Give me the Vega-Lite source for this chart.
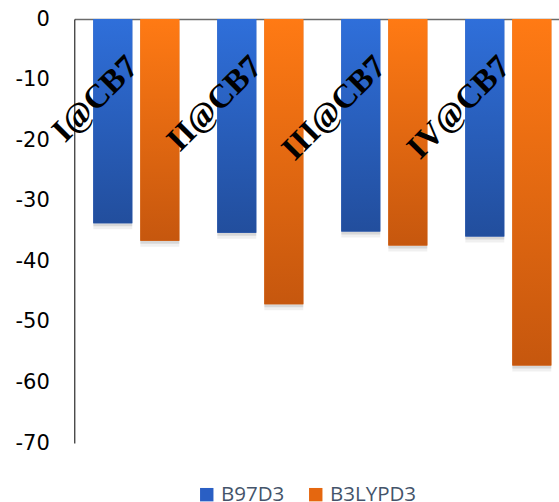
{
  "$schema": "https://vega.github.io/schema/vega-lite/v6.json",
  "width": 484.7,
  "height": 424,
  "autosize": {"type": "none"},
  "padding": {"left": 74.3, "top": 19, "right": 0, "bottom": 59},
  "background": "white",
  "config": {"view": {"stroke": null}, "font": "DejaVu Sans"},
  "datasets": {
    "energies": [
      {"complex": "I@CB7", "series": "B97D3", "energy": -33.7},
      {"complex": "I@CB7", "series": "B3LYPD3", "energy": -36.6},
      {"complex": "II@CB7", "series": "B97D3", "energy": -35.3},
      {"complex": "II@CB7", "series": "B3LYPD3", "energy": -47.1},
      {"complex": "III@CB7", "series": "B97D3", "energy": -35.1},
      {"complex": "III@CB7", "series": "B3LYPD3", "energy": -37.4},
      {"complex": "IV@CB7", "series": "B97D3", "energy": -35.9},
      {"complex": "IV@CB7", "series": "B3LYPD3", "energy": -57.2}
    ]
  },
  "data": {"name": "energies"},
  "encoding": {
    "x": {
      "field": "complex",
      "type": "nominal",
      "sort": null,
      "scale": {"range": [0, 496], "paddingInner": 0.306, "paddingOuter": 0.153},
      "axis": {"orient": "top", "labels": false, "ticks": false, "title": null, "domainColor": "#6b6b6b", "domainWidth": 1.3}
    }
  },
  "layer": [
    {
      "mark": {"type": "bar", "color": "#000000", "opacity": 0.06, "yOffset": 6, "y2Offset": 6},
      "encoding": {
        "xOffset": {"field": "series", "type": "nominal", "scale": {"domain": ["B97D3", "B3LYPD3"], "paddingInner": 0.171}},
        "y": {"field": "energy", "type": "quantitative", "scale": {"domain": [-70, 0], "nice": false},
              "axis": {"title": null, "values": [0, -10, -20, -30, -40, -50, -60, -70], "labelExpr": "'' + datum.value", "ticks": false, "grid": false, "domainColor": "#000000", "domainWidth": 1, "labelFont": "DejaVu Sans", "labelFontSize": 21, "labelColor": "#000000", "labelPadding": 25}}
      }
    },
    {
      "mark": {"type": "bar", "color": "#000000", "opacity": 0.1, "yOffset": 3, "y2Offset": 3},
      "encoding": {
        "xOffset": {"field": "series", "type": "nominal", "scale": {"domain": ["B97D3", "B3LYPD3"], "paddingInner": 0.171}},
        "y": {"field": "energy", "type": "quantitative", "scale": {"domain": [-70, 0], "nice": false},
              "axis": {"title": null, "values": [0, -10, -20, -30, -40, -50, -60, -70], "labelExpr": "'' + datum.value", "ticks": false, "grid": false, "domainColor": "#000000", "domainWidth": 1, "labelFont": "DejaVu Sans", "labelFontSize": 21, "labelColor": "#000000", "labelPadding": 25}}
      }
    },
    {
      "mark": {"type": "bar"},
      "encoding": {
        "xOffset": {"field": "series", "type": "nominal", "scale": {"domain": ["B97D3", "B3LYPD3"], "paddingInner": 0.171}},
        "y": {"field": "energy", "type": "quantitative", "scale": {"domain": [-70, 0], "nice": false},
              "axis": {"title": null, "values": [0, -10, -20, -30, -40, -50, -60, -70], "labelExpr": "'' + datum.value", "ticks": false, "grid": false, "domainColor": "#000000", "domainWidth": 1, "labelFont": "DejaVu Sans", "labelFontSize": 21, "labelColor": "#000000", "labelPadding": 25}},
        "color": {
          "field": "series",
          "type": "nominal",
          "scale": {"domain": ["B97D3", "B3LYPD3"], "range": ["#2a5fc4", "#e5670f"]},
          "legend": {"orient": "none", "legendX": 122.2, "legendY": 465.3, "direction": "horizontal", "title": null, "symbolType": "square", "symbolSize": 180, "symbolStrokeWidth": 0, "symbolOpacity": 1, "labelFont": "Open Sans", "labelFontSize": 20.5, "labelColor": "#44546a", "labelOffset": 4, "columnPadding": 21}
        }
      }
    },
    {
      "transform": [{"filter": "datum.series === 'B97D3'"}],
      "mark": {"type": "bar", "fill": {"gradient": "linear", "x1": 0, "y1": 0, "x2": 0, "y2": 1, "stops": [{"offset": 0, "color": "#2f6fda"}, {"offset": 1, "color": "#224e9d"}]}},
      "encoding": {
        "xOffset": {"field": "series", "type": "nominal", "scale": {"domain": ["B97D3", "B3LYPD3"], "paddingInner": 0.171}},
        "y": {"field": "energy", "type": "quantitative", "scale": {"domain": [-70, 0], "nice": false},
              "axis": {"title": null, "values": [0, -10, -20, -30, -40, -50, -60, -70], "labelExpr": "'' + datum.value", "ticks": false, "grid": false, "domainColor": "#000000", "domainWidth": 1, "labelFont": "DejaVu Sans", "labelFontSize": 21, "labelColor": "#000000", "labelPadding": 25}}
      }
    },
    {
      "transform": [{"filter": "datum.series === 'B3LYPD3'"}],
      "mark": {"type": "bar", "fill": {"gradient": "linear", "x1": 0, "y1": 0, "x2": 0, "y2": 1, "stops": [{"offset": 0, "color": "#ff7a14"}, {"offset": 1, "color": "#c6570e"}]}},
      "encoding": {
        "xOffset": {"field": "series", "type": "nominal", "scale": {"domain": ["B97D3", "B3LYPD3"], "paddingInner": 0.171}},
        "y": {"field": "energy", "type": "quantitative", "scale": {"domain": [-70, 0], "nice": false},
              "axis": {"title": null, "values": [0, -10, -20, -30, -40, -50, -60, -70], "labelExpr": "'' + datum.value", "ticks": false, "grid": false, "domainColor": "#000000", "domainWidth": 1, "labelFont": "DejaVu Sans", "labelFontSize": 21, "labelColor": "#000000", "labelPadding": 25}}
      }
    },
    {
      "transform": [{"filter": "datum.series === 'B97D3'"}],
      "mark": {"type": "text", "align": "right", "baseline": "alphabetic", "angle": -45, "xOffset": 3.5, "font": "Liberation Serif", "fontWeight": "bold", "fontSize": 33, "color": "#000000"},
      "encoding": {
        "y": {"datum": -8.2, "type": "quantitative", "scale": {"domain": [-70, 0], "nice": false},
              "axis": {"title": null, "values": [0, -10, -20, -30, -40, -50, -60, -70], "labelExpr": "'' + datum.value", "ticks": false, "grid": false, "domainColor": "#000000", "domainWidth": 1, "labelFont": "DejaVu Sans", "labelFontSize": 21, "labelColor": "#000000", "labelPadding": 25}},
        "text": {"field": "complex"}
      }
    }
  ]
}
